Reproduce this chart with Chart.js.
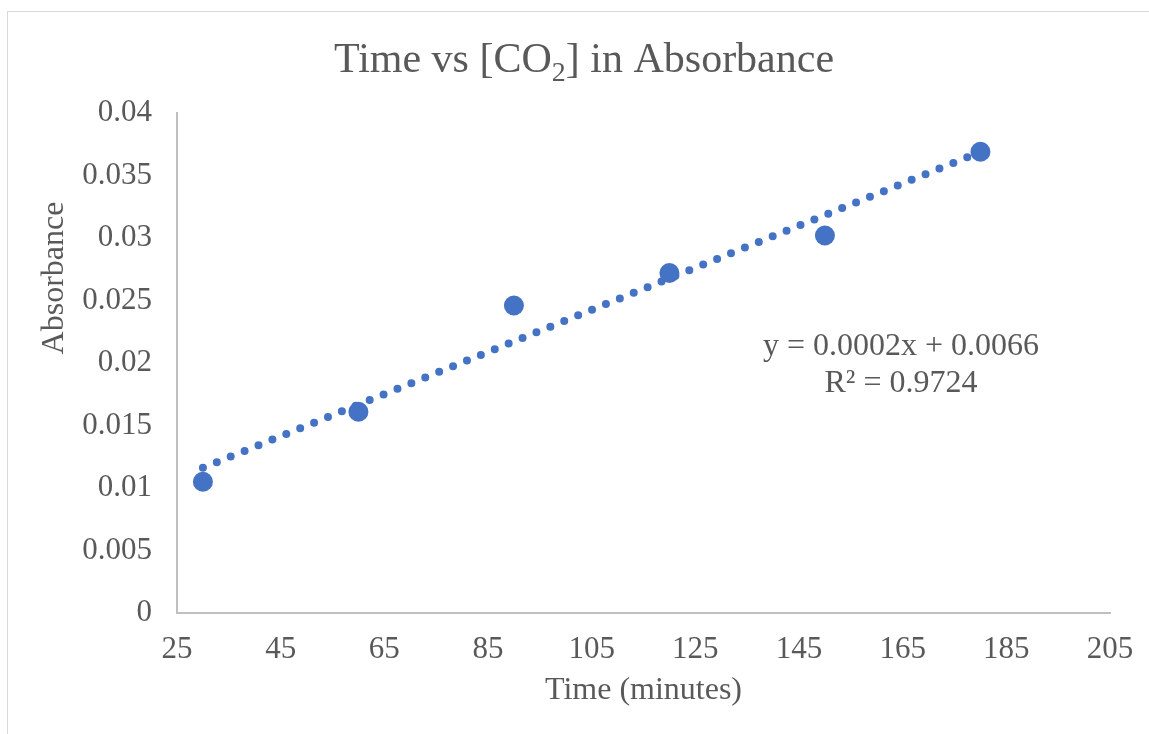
<!DOCTYPE html>
<html>
<head>
<meta charset="utf-8">
<script src="https://cdn.jsdelivr.net/npm/chart.js@4.4.1/dist/chart.umd.min.js"></script>
<style>
  html, body { margin: 0; padding: 0; background: #ffffff; }
  #wrap { width: 1149px; height: 734px; position: relative; }
</style>
</head>
<body>
<div id="wrap"><canvas id="co2Chart" width="1149" height="734"></canvas></div>
<script>
// Sampling times (minutes) and measured absorbance
const times = [30, 60, 90, 120, 150, 180];
const absorbance = [0.0105, 0.0161, 0.0246, 0.0272, 0.0302, 0.0369];

// Axis ranges / ticks
const xTicks = [25, 45, 65, 85, 105, 125, 145, 165, 185, 205];
const yTicks = [0, 0.005, 0.01, 0.015, 0.02, 0.025, 0.03, 0.035, 0.04];

// Trendline label as shown next to the fit
const eqLines = ['y = 0.0002x + 0.0066', 'R\u00B2 = 0.9724'];

const FONT = '"Liberation Serif", "Times New Roman", serif';
const TEXT = '#595959';
const BLUE = '#4472C4';

// Least squares fit through the measured points
const linearFit = (xs, ys) => {
    const n = xs.length;
    const mx = xs.reduce((a, b) => a + b, 0) / n;
    const my = ys.reduce((a, b) => a + b, 0) / n;
    let sxy = 0, sxx = 0;
    xs.forEach((x, i) => { sxy += (x - mx) * (ys[i] - my); sxx += (x - mx) ** 2; });
    const slope = sxy / sxx;
    return { slope, intercept: my - slope * mx };
};

const fit = linearFit(times, absorbance);
const xFirst = times[0], xLast = times[times.length - 1];
const trendPoints = [
    { x: xFirst, y: fit.slope * xFirst + fit.intercept },
    { x: xLast, y: fit.slope * xLast + fit.intercept }
];

// Title (with subscript), y-axis title, equation and outer frame
const decorations = {
    id: 'decorations',
    beforeDraw(chart) {
        const ctx = chart.ctx;
        ctx.save();
        ctx.strokeStyle = '#d9d9d9';
        ctx.lineWidth = 1;
        ctx.strokeRect(7.5, 11.5, 2000, 2000);
        ctx.restore();
    },
    afterDraw(chart) {
        const ctx = chart.ctx;
        ctx.save();
        ctx.fillStyle = TEXT;
        ctx.textBaseline = 'alphabetic';

        // chart title: Time vs [CO2] in Absorbance
        const big = '42px ' + FONT, small = '28px ' + FONT;
        const parts = [
            { t: 'Time vs [CO', f: big, dy: 0 },
            { t: '2', f: small, dy: 9 },
            { t: '] in Absorbance', f: big, dy: 0 }
        ];
        let total = 0;
        parts.forEach(p => { ctx.font = p.f; p.w = ctx.measureText(p.t).width; total += p.w; });
        let x = 584 - total / 2;
        ctx.textAlign = 'left';
        parts.forEach(p => { ctx.font = p.f; ctx.fillText(p.t, x, 72 + p.dy); x += p.w; });

        // y-axis title
        ctx.save();
        ctx.translate(63, 278);
        ctx.rotate(-Math.PI / 2);
        ctx.font = '32px ' + FONT;
        ctx.textAlign = 'center';
        ctx.fillText('Absorbance', 0, 0);
        ctx.restore();

        // trendline equation
        ctx.font = '32px ' + FONT;
        ctx.textAlign = 'center';
        ctx.fillText(eqLines[0], 901, 355);
        ctx.fillText(eqLines[1], 901, 392);
        ctx.restore();
    }
};

new Chart(document.getElementById('co2Chart'), {
    type: 'scatter',
    data: {
        datasets: [
            {
                label: 'Absorbance',
                data: times.map((t, i) => ({ x: t, y: absorbance[i] })),
                backgroundColor: BLUE,
                borderColor: BLUE,
                pointRadius: 10,
                pointHoverRadius: 10,
                pointBorderWidth: 0,
                order: 1
            },
            {
                label: 'Linear fit',
                type: 'line',
                data: trendPoints,
                borderColor: BLUE,
                borderWidth: 8,
                borderDash: [0, 15],
                borderCapStyle: 'round',
                pointRadius: 0,
                fill: false,
                order: 2
            }
        ]
    },
    options: {
        responsive: false,
        animation: false,
        layout: { padding: { top: 113, right: 39, bottom: 0, left: 0 } },
        plugins: {
            legend: { display: false },
            tooltip: { enabled: false }
        },
        scales: {
            x: {
                type: 'linear',
                min: xTicks[0],
                max: xTicks[xTicks.length - 1],
                afterBuildTicks: s => { s.ticks = xTicks.map(v => ({ value: v })); },
                afterFit: s => { s.height = 121; s.paddingLeft = 0; s.paddingRight = 0; },
                grid: { display: false, drawTicks: false },
                border: { display: true, color: '#bfbfbf', width: 2 },
                ticks: {
                    color: TEXT,
                    font: { family: FONT, size: 31 },
                    padding: 18,
                    maxRotation: 0,
                    autoSkip: false
                },
                title: {
                    display: true,
                    text: 'Time (minutes)',
                    color: TEXT,
                    font: { family: FONT, size: 32 },
                    padding: { top: 0, bottom: 24 }
                }
            },
            y: {
                type: 'linear',
                min: yTicks[0],
                max: yTicks[yTicks.length - 1],
                afterBuildTicks: s => { s.ticks = yTicks.map(v => ({ value: v })); },
                afterFit: s => { s.width = 177; s.paddingTop = 0; s.paddingBottom = 0; },
                grid: { display: false, drawTicks: false },
                border: { display: true, color: '#bfbfbf', width: 2 },
                ticks: {
                    color: TEXT,
                    font: { family: FONT, size: 31 },
                    padding: 25,
                    autoSkip: false,
                    callback: v => String(+v.toFixed(3))
                }
            }
        }
    },
    plugins: [decorations]
});
</script>
</body>
</html>
